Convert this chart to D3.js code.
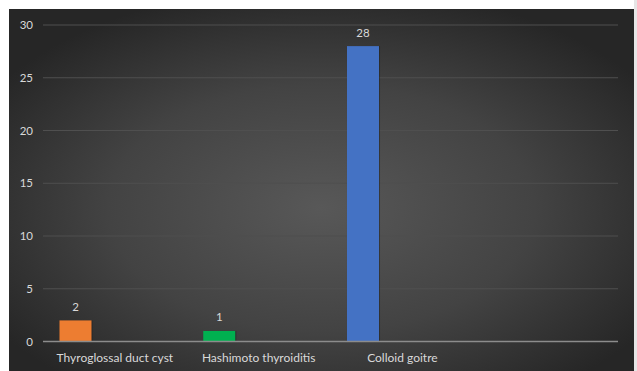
<!DOCTYPE html>
<html>
<head>
<meta charset="utf-8">
<script src="https://cdn.jsdelivr.net/npm/d3@7"></script>
<style>
  html, body { margin: 0; padding: 0; background: #ffffff; }
  svg { display: block; }
  text { font-family: Lato, "Open Sans", sans-serif; }
</style>
</head>
<body>
<svg id="chart" width="637" height="371"></svg>
<script>
// Diagnoses and case counts
const categories = ["Thyroglossal duct cyst", "Hashimoto thyroiditis", "Colloid goitre", ""];
const values = [2, 1, 28, null];
const barColors = ["#ed7d31", "#00b050", "#4472c4", "#a5a5a5"];
const slots = [0, 1, 2]; // clustered layout reserves three column slots per category
const yTicks = [0, 5, 10, 15, 20, 25, 30];

const svg = d3.select("#chart");
const W = 637, H = 371;

// Chart area with radial shading
const defs = svg.append("defs");
const grad = defs.append("radialGradient")
  .attr("id", "bg").attr("cx", "50%").attr("cy", "55%").attr("r", "62%");
grad.append("stop").attr("offset", "0%").attr("stop-color", "#585858");
grad.append("stop").attr("offset", "55%").attr("stop-color", "#434343");
grad.append("stop").attr("offset", "100%").attr("stop-color", "#262626");

svg.append("rect").attr("x", 634).attr("y", 0).attr("width", 3).attr("height", H).attr("fill", "#e6e6e6");
svg.append("rect").attr("x", 9).attr("y", 9).attr("width", 625).attr("height", H - 9).attr("fill", "url(#bg)");

const plot = { left: 43, right: 618, top: 25, bottom: 341.5 };

const x0 = d3.scaleBand().domain(categories.map((c, i) => i))
  .range([plot.left, plot.right]).paddingInner(0).paddingOuter(0);
const x1 = d3.scaleBand().domain(slots)
  .range([0, x0.bandwidth()]).paddingInner(0.187).paddingOuter(0.419);
const y = d3.scaleLinear().domain([0, 30]).range([plot.bottom, plot.top]);

// Gridlines
svg.append("g").selectAll("line").data(yTicks.filter(t => t !== 0)).join("line")
  .attr("x1", plot.left).attr("x2", plot.right)
  .attr("y1", d => y(d)).attr("y2", d => y(d))
  .attr("stroke", "#4f4f4f").attr("stroke-width", 1);

// Y axis labels
const yAxis = d3.axisLeft(y).tickValues(yTicks).tickSize(0).tickPadding(10);
const yg = svg.append("g").attr("transform", `translate(${plot.left},0)`).call(yAxis);
yg.select(".domain").remove();
yg.selectAll("text").attr("fill", "#d9d9d9").attr("font-size", 11.5)
  .style("font-family", "Lato, 'Open Sans', sans-serif");

// Bars (first slot of each category)
const bars = values.map((v, ci) => ({ ci, v })).filter(d => d.v != null);
const bx = d => x0(d.ci) + x1(0);
const bw = x1.bandwidth();

svg.append("g").selectAll("rect").data(bars).join("rect")
  .attr("x", d => bx(d) + 1).attr("y", d => y(d.v)).attr("width", bw)
  .attr("height", d => y(0) - y(d.v)).attr("fill", "#1e1e1e").attr("opacity", 0.5);
svg.append("g").selectAll("rect").data(bars).join("rect")
  .attr("x", d => bx(d)).attr("y", d => y(d.v)).attr("width", bw)
  .attr("height", d => y(0) - y(d.v)).attr("fill", d => barColors[d.ci]);

// Value labels
svg.append("g").selectAll("text").data(bars).join("text")
  .attr("x", d => bx(d) + bw / 2).attr("y", d => y(d.v) - 9.5)
  .attr("text-anchor", "middle").attr("fill", "#d9d9d9").attr("font-size", 11.5)
  .text(d => d.v);

// Baseline axis
svg.append("line").attr("x1", plot.left).attr("x2", plot.right)
  .attr("y1", y(0)).attr("y2", y(0)).attr("stroke", "#8c8c8c").attr("stroke-width", 1.5);

// Category labels
const xAxis = d3.axisBottom(x0).tickSize(0).tickPadding(12).tickFormat(i => categories[i]);
const xg = svg.append("g").attr("transform", `translate(0,${y(0)})`).call(xAxis);
xg.select(".domain").remove();
xg.selectAll("text").attr("fill", "#d9d9d9").attr("font-size", 12)
  .style("font-family", "Lato, 'Open Sans', sans-serif");
</script>
</body>
</html>
